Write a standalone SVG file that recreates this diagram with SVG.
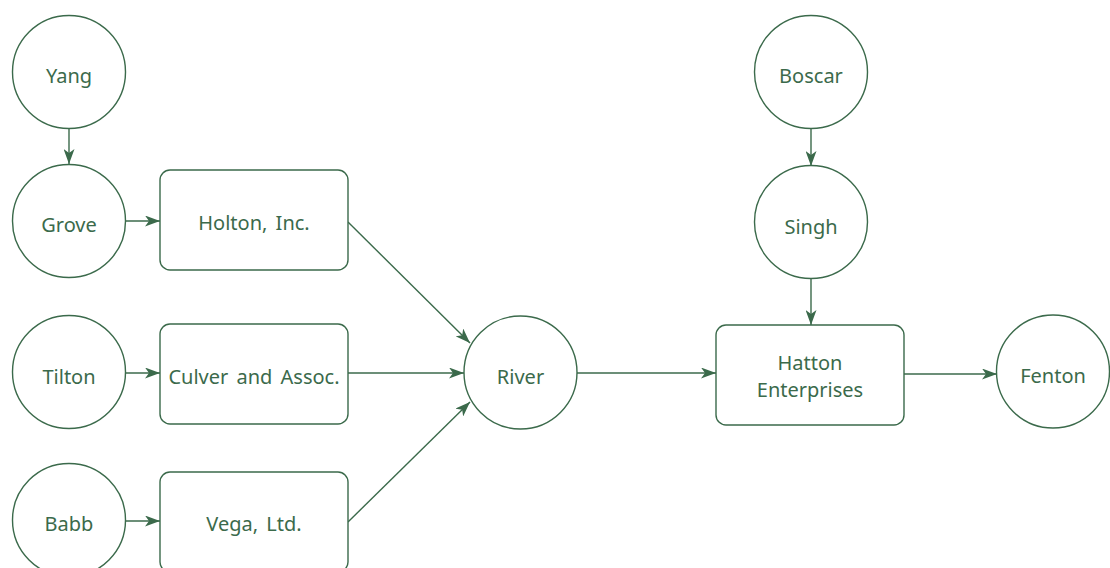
<svg xmlns="http://www.w3.org/2000/svg" width="1110" height="568" viewBox="0 0 1110 568">
<style>
.n{fill:#fff;stroke:#3b6a4b;stroke-width:1.4}
.t{font-family:"Noto Sans","Open Sans",sans-serif;font-size:20px;fill:#3b6a4b;text-anchor:middle;dominant-baseline:central;word-spacing:3px}
.c{fill:none;stroke:#3b6a4b;stroke-width:1.4;marker-end:url(#ah)}
</style>
<defs>
<marker id="ah" viewBox="0 0 15 11" refX="15" refY="5.5" markerWidth="15" markerHeight="11" markerUnits="userSpaceOnUse" orient="auto">
<path d="M0,0 L15,5.5 L0,11 L4,5.5 Z" fill="#3b6a4b"/>
</marker>
</defs>
<g id="connectors">
<line class="c" x1="69" y1="128" x2="69" y2="164"/>
<line class="c" x1="126" y1="221" x2="160" y2="221"/>
<line class="c" x1="126" y1="373" x2="160" y2="373"/>
<line class="c" x1="126" y1="521" x2="160" y2="521"/>
<line class="c" x1="348" y1="222" x2="470" y2="343"/>
<line class="c" x1="348" y1="373" x2="464" y2="373"/>
<line class="c" x1="348" y1="522" x2="470" y2="402"/>
<line class="c" x1="577" y1="373" x2="716" y2="373"/>
<line class="c" x1="811" y1="128" x2="811" y2="166"/>
<line class="c" x1="811" y1="278" x2="811" y2="325"/>
<line class="c" x1="904" y1="374" x2="997" y2="374"/>
</g>
<g id="yang"><circle class="n" cx="69" cy="72" r="56.5"/><text class="t" x="69" y="75">Yang</text></g>
<g id="grove"><circle class="n" cx="69" cy="221" r="56.5"/><text class="t" x="69" y="224">Grove</text></g>
<g id="tilton"><circle class="n" cx="69" cy="372" r="56.5"/><text class="t" x="69" y="376">Tilton</text></g>
<g id="babb"><circle class="n" cx="69" cy="520" r="56.5"/><text class="t" x="69" y="523">Babb</text></g>
<g id="holton"><rect class="n" x="160" y="170" width="188" height="100" rx="10"/><text class="t" x="254" y="222">Holton, Inc.</text></g>
<g id="culver"><rect class="n" x="160" y="324" width="188" height="100" rx="10"/><text class="t" x="254" y="376">Culver and Assoc.</text></g>
<g id="vega"><rect class="n" x="160" y="472" width="188" height="100" rx="10"/><text class="t" x="254" y="523">Vega, Ltd.</text></g>
<g id="river"><circle class="n" cx="520.5" cy="372.5" r="56.5"/><text class="t" x="520.5" y="376">River</text></g>
<g id="boscar"><circle class="n" cx="811" cy="72" r="56.5"/><text class="t" x="811" y="75">Boscar</text></g>
<g id="singh"><circle class="n" cx="811" cy="222" r="56.5"/><text class="t" x="811" y="226">Singh</text></g>
<g id="hatton"><rect class="n" x="716" y="325" width="188" height="100" rx="10"/><text class="t" x="810" y="362">Hatton</text><text class="t" x="810" y="389">Enterprises</text></g>
<g id="fenton"><circle class="n" cx="1053" cy="371.5" r="56.5"/><text class="t" x="1053" y="375">Fenton</text></g>
</svg>
